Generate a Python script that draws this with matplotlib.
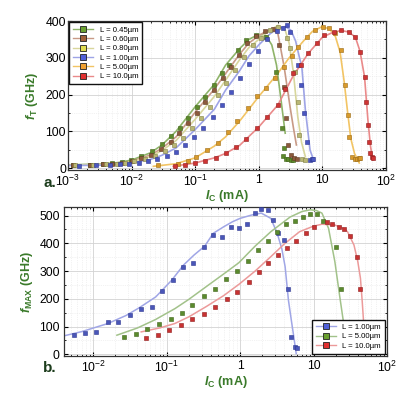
import matplotlib
matplotlib.use("Agg")
import matplotlib.pyplot as plt
from matplotlib.lines import Line2D
from matplotlib.ticker import FixedLocator, FixedFormatter, LogLocator, NullFormatter, MultipleLocator

plt.rcParams['font.family'] = ['Liberation Sans', 'DejaVu Sans']
plt.rcParams['mathtext.fontset'] = 'custom'
plt.rcParams['mathtext.rm'] = 'Liberation Sans'
plt.rcParams['mathtext.it'] = 'Liberation Sans:italic'
plt.rcParams['mathtext.bf'] = 'Liberation Sans:bold'
plt.rcParams['mathtext.bfit'] = 'Liberation Sans:bold:italic'

# ---------------- panel a: fT vs Ic ----------------
labels_a = ['L = 0.45µm', 'L = 0.60µm', 'L = 0.80µm', 'L = 1.00µm', 'L = 5.00µm', 'L = 10.0µm']

# measured points
ic_045 = [0.0012, 0.0022, 0.0035, 0.005, 0.007, 0.0097, 0.014, 0.021, 0.03, 0.042, 0.057, 0.078, 0.107, 0.145, 0.197, 0.26, 0.34, 0.47, 0.64, 0.9, 1.3, 1.84, 2.3, 2.5, 2.4, 2.65, 2.9, 3.2, 3.5]
ft_045 = [9, 9, 11, 13, 16, 22, 33, 46, 65, 88, 109, 136, 166, 193, 226, 258, 280, 321, 348, 362, 356, 261, 110, 55, 32, 26, 24, 22, 21]
ic_060 = [0.0012, 0.0022, 0.0035, 0.005, 0.007, 0.01, 0.014, 0.02, 0.029, 0.041, 0.056, 0.078, 0.107, 0.145, 0.2, 0.27, 0.36, 0.48, 0.66, 0.9, 1.25, 1.7, 2.08, 2.47, 2.65, 2.9, 3.2, 3.6, 4.0]
ft_060 = [9, 9, 10, 12, 15, 20, 27, 37, 52, 70, 95, 122, 150, 180, 212, 245, 275, 308, 340, 360, 372, 378, 335, 221, 135, 63, 35, 28, 25]
ic_080 = [0.0013, 0.0025, 0.004, 0.0058, 0.008, 0.011, 0.016, 0.023, 0.033, 0.046, 0.064, 0.09, 0.125, 0.17, 0.23, 0.31, 0.42, 0.58, 0.8, 1.1, 1.5, 2.0, 2.76, 3.1, 3.66, 4.1, 4.3, 4.85, 5.3]
ft_080 = [8, 9, 10, 12, 15, 19, 26, 34, 46, 62, 82, 108, 135, 165, 198, 232, 268, 303, 335, 355, 375, 385, 353, 326, 262, 180, 90, 24, 22]
ic_100 = [0.0015, 0.0028, 0.0045, 0.0065, 0.009, 0.013, 0.018, 0.025, 0.036, 0.05, 0.07, 0.097, 0.135, 0.19, 0.26, 0.36, 0.5, 0.7, 0.97, 1.35, 1.9, 2.4, 2.76, 3.1, 4.1, 4.6, 5.2, 5.8, 6.4, 6.8, 7.2]
ft_100 = [7, 8, 9, 10, 12, 15, 19, 25, 33, 45, 62, 85, 110, 140, 173, 208, 245, 282, 318, 350, 372, 382, 389, 371, 280, 226, 150, 70, 22, 24, 25]
ic_500 = [0.026, 0.053, 0.076, 0.104, 0.155, 0.226, 0.33, 0.46, 0.67, 0.93, 1.3, 1.8, 2.5, 3.3, 4.1, 5.76, 7.6, 10.1, 12.7, 16, 19.9, 22.3, 25, 26.4, 29.4, 33, 35, 37, 39]
ft_500 = [8, 11, 19, 30, 49, 68, 98, 128, 163, 195, 218, 245, 275, 305, 330, 357, 375, 384, 380, 368, 321, 226, 144, 85, 31, 26, 24, 27, 28]
ic_1000 = [0.048, 0.07, 0.1, 0.145, 0.21, 0.3, 0.44, 0.64, 0.93, 1.35, 1.97, 2.6, 3.46, 4.6, 6.0, 8.1, 10.7, 15, 19.9, 26.4, 33, 39, 46, 49, 52, 55, 57, 60, 62]
ft_1000 = [6, 9, 14, 20, 28, 40, 58, 80, 108, 140, 171, 215, 258, 280, 312, 339, 362, 371, 375, 371, 357, 316, 248, 180, 117, 72, 40, 30, 27]

# fitted curves
fit_ic_045 = [0.001, 0.003, 0.006, 0.01, 0.02, 0.03, 0.05, 0.1, 0.2, 0.3, 0.5, 0.7, 1.0, 1.3, 1.6, 1.9, 2.2, 2.6]
fit_ft_045 = [9, 11, 15, 22, 42, 63, 100, 167, 228, 280, 325, 350, 364, 360, 335, 280, 195, 95]
fit_ic_060 = [0.001, 0.003, 0.006, 0.01, 0.02, 0.03, 0.05, 0.1, 0.2, 0.3, 0.5, 0.7, 1.0, 1.3, 1.6, 2.0, 2.5, 3.1, 3.5, 3.9]
fit_ft_060 = [8, 10, 13, 19, 36, 54, 85, 152, 215, 257, 310, 340, 360, 372, 378, 365, 276, 167, 110, 63]
fit_ic_080 = [0.001, 0.003, 0.006, 0.01, 0.02, 0.03, 0.05, 0.1, 0.2, 0.3, 0.5, 0.7, 1.0, 1.4, 2.0, 2.6, 3.0, 3.5, 4.1, 4.7, 5.4]
fit_ft_080 = [8, 10, 12, 17, 32, 48, 75, 133, 195, 239, 295, 328, 350, 372, 388, 375, 340, 260, 140, 70, 31]
fit_ic_100 = [0.001, 0.003, 0.006, 0.01, 0.02, 0.03, 0.05, 0.1, 0.2, 0.3, 0.5, 0.7, 1.0, 1.5, 2.0, 2.6, 3.2, 3.8, 4.3, 4.75, 5.4, 6.4, 7.2]
fit_ft_100 = [7, 8, 10, 14, 24, 35, 55, 105, 160, 212, 265, 305, 335, 365, 380, 385, 375, 345, 305, 275, 158, 49, 24]
fit_ic_500 = [0.022, 0.05, 0.1, 0.2, 0.3, 0.5, 1.0, 2.0, 3.0, 5.0, 7.0, 10, 13, 16, 19, 22, 25, 28, 32, 38]
fit_ft_500 = [5, 12, 28, 60, 85, 128, 195, 258, 300, 345, 372, 385, 378, 358, 315, 235, 150, 80, 40, 14]
fit_ic_1000 = [0.045, 0.1, 0.2, 0.3, 0.5, 1.0, 2.0, 3.5, 6.0, 10, 15, 20, 26, 33, 39, 46, 52, 57, 62]
fit_ft_1000 = [5, 14, 28, 40, 62, 112, 172, 252, 312, 356, 370, 374, 370, 356, 318, 248, 130, 60, 22]

# ---------------- panel b: fMAX vs Ic ----------------
labels_b = ['L = 1.00µm', 'L = 5.00µm', 'L = 10.0µm']
icm_100 = [0.0055, 0.0078, 0.011, 0.0158, 0.022, 0.0316, 0.045, 0.063, 0.087, 0.123, 0.168, 0.23, 0.32, 0.43, 0.57, 0.75, 0.96, 1.23, 1.57, 1.94, 2.37, 2.84, 3.26, 4.0, 4.55, 5.0, 5.56, 5.9]
fm_100 = [69, 78, 80, 115, 115, 142, 164, 171, 230, 267, 313, 328, 388, 431, 422, 458, 454, 470, 510, 524, 521, 484, 436, 412, 235, 63, 27, 23]
icm_500 = [0.026, 0.038, 0.054, 0.078, 0.113, 0.16, 0.224, 0.325, 0.46, 0.64, 0.91, 1.27, 1.75, 2.37, 3.2, 4.24, 5.56, 7.1, 8.9, 11.0, 13.5, 20.4, 23.3]
fm_500 = [63, 75, 93, 108, 129, 149, 177, 210, 234, 272, 300, 337, 376, 408, 440, 469, 481, 496, 505, 505, 482, 386, 235]
icm_1000 = [0.052, 0.076, 0.109, 0.158, 0.224, 0.325, 0.46, 0.66, 0.91, 1.32, 1.79, 2.4, 3.3, 4.3, 5.8, 7.9, 10.1, 15.1, 17.9, 22, 26.3, 31, 39.3, 43.5]
fm_1000 = [60, 71, 87, 105, 127, 147, 169, 199, 225, 261, 296, 328, 358, 384, 410, 439, 458, 476, 469, 458, 452, 428, 350, 235]

fit_icm_100 = [0.0035, 0.007, 0.0158, 0.028, 0.043, 0.071, 0.117, 0.17, 0.236, 0.33, 0.43, 0.6, 0.79, 1.0, 1.43, 1.94, 2.62, 3.2, 3.7, 4.1, 4.55, 5.0, 5.3, 5.8]
fit_fm_100 = [63, 82, 111, 140, 169, 207, 267, 322, 358, 390, 436, 460, 478, 490, 502, 509, 490, 436, 380, 316, 195, 120, 75, 3]
fit_icm_500 = [0.021, 0.04, 0.07, 0.13, 0.2, 0.35, 0.6, 0.96, 1.6, 2.62, 4.8, 7.0, 9.1, 11, 13, 16, 19.5, 22.6, 26.3, 27.7]
fit_fm_500 = [69, 95, 125, 165, 198, 245, 290, 330, 390, 442, 495, 515, 521, 518, 509, 454, 334, 213, 93, 8]
fit_icm_1000 = [0.045, 0.08, 0.129, 0.2, 0.35, 0.6, 0.96, 1.6, 2.62, 4.0, 6.45, 10, 13, 19.5, 25, 29, 35.5, 40, 43.5, 46, 48, 49.6]
fit_fm_1000 = [81, 95, 111, 135, 173, 212, 252, 300, 352, 398, 442, 462, 469, 466, 455, 442, 394, 335, 274, 190, 117, 8]

# styles
mk_a = ['#5d8a2c', '#8c5a3c', '#b9b774', '#4a56c0', '#d89a2c', '#cf3434']
edge_a = ['#3f6318', '#5e3822', '#7f7d40', '#2c3690', '#9a6a14', '#8f1a1a']
leg_a = ['#6aa030', '#a0603a', '#e0dc50', '#5060d8', '#f0a030', '#e03030']
ln_a = ['#8fb46a', '#c89a86', '#d8d69c', '#9ea4e6', '#f2c464', '#ea8a8a']
mk_b = ['#4a56b8', '#5a8a2e', '#c83232']
edge_b = ['#2c3690', '#3f6318', '#8f1a1a']
leg_b = ['#5060d8', '#6aa030', '#e03030']
ln_b = ['#a0a6e6', '#a2c28a', '#ec9a9a']

lab_col = '#3a7a2a'
W, H = 414, 393
fig = plt.figure(figsize=(W / 100, H / 100), dpi=100)

def style_axes(ax, yminor, ypad):
    ax.set_xscale('log')
    ax.tick_params(which='both', direction='in', top=True, right=True, labelsize=8.8, colors='black')
    ax.tick_params(axis='x', pad=3)
    ax.tick_params(axis='y', pad=ypad)
    ax.tick_params(which='major', length=3, width=0.8)
    ax.tick_params(which='minor', length=1.6, width=0.6)
    ax.xaxis.set_minor_locator(LogLocator(base=10, subs=range(2, 10), numticks=20))
    ax.xaxis.set_minor_formatter(NullFormatter())
    ax.yaxis.set_minor_locator(MultipleLocator(yminor))
    ax.grid(which='major', color='#d2d2d2', lw=0.6)
    ax.grid(which='minor', color='#e6e6e6', lw=0.5, ls=':')
    ax.set_axisbelow(True)
    for s in ax.spines.values():
        s.set_color('#333333')
        s.set_linewidth(0.9)

# ---- panel a
ax1 = fig.add_axes([68 / W, 1 - 170 / H, 318 / W, 149 / H])
style_axes(ax1, 50, 1.5)
fits_a = [(fit_ic_045, fit_ft_045), (fit_ic_060, fit_ft_060), (fit_ic_080, fit_ft_080),
          (fit_ic_100, fit_ft_100), (fit_ic_500, fit_ft_500), (fit_ic_1000, fit_ft_1000)]
pts_a = [(ic_045, ft_045), (ic_060, ft_060), (ic_080, ft_080),
         (ic_100, ft_100), (ic_500, ft_500), (ic_1000, ft_1000)]
for i in range(6):
    ax1.plot(fits_a[i][0], fits_a[i][1], color=ln_a[i], lw=1.2, zorder=2)
for i in range(6):
    ax1.plot(pts_a[i][0], pts_a[i][1], ls='none', marker='s', ms=3.3, mfc=mk_a[i],
             mec=edge_a[i], mew=0.4, zorder=3)
ax1.set_xlim(1e-3, 1e2)
ax1.set_ylim(-5, 400)
ax1.set_yticks([0, 100, 200, 300, 400])
ax1.xaxis.set_major_locator(FixedLocator([1e-3, 1e-2, 1e-1, 1, 10, 100]))
ax1.xaxis.set_major_formatter(FixedFormatter(['10$^{-3}$', '10$^{-2}$', '10$^{-1}$', '1', '10', '10$^{2}$']))
ax1.set_ylabel(r'$\mathbfit{f}_{\mathbf{T}}$ $\mathbf{(GHz)}$', fontsize=9, color=lab_col, labelpad=4)
ax1.set_xlabel(r'$\mathbfit{I}_{\mathbf{C}}$ $\mathbf{(mA)}$', fontsize=9, color=lab_col, labelpad=-1)
h_a = [Line2D([], [], color=ln_a[i], lw=1.0, marker='s', ms=4.5, mfc=leg_a[i], mec='#222222', mew=0.6)
       for i in range(6)]
lg1 = ax1.legend(h_a, labels_a, loc='upper left', fontsize=5.6, handlelength=2.6, handletextpad=0.8,
                 labelspacing=0.25, borderaxespad=0.15, borderpad=0.5, fancybox=False, framealpha=1,
                 edgecolor='#111111')
lg1.get_frame().set_linewidth(1.0)

# ---- panel b
ax2 = fig.add_axes([64 / W, 1 - 356 / H, 323 / W, 149 / H])
style_axes(ax2, 50, 3)
fits_b = [(fit_icm_100, fit_fm_100), (fit_icm_500, fit_fm_500), (fit_icm_1000, fit_fm_1000)]
pts_b = [(icm_100, fm_100), (icm_500, fm_500), (icm_1000, fm_1000)]
for i in range(3):
    ax2.plot(fits_b[i][0], fits_b[i][1], color=ln_b[i], lw=1.1, zorder=2)
for i in range(3):
    ax2.plot(pts_b[i][0], pts_b[i][1], ls='none', marker='s', ms=3.3, mfc=mk_b[i],
             mec=edge_b[i], mew=0.4, zorder=3)
ax2.set_xlim(4e-3, 1e2)
ax2.set_ylim(-6, 531)
ax2.set_yticks([0, 100, 200, 300, 400, 500])
ax2.xaxis.set_major_locator(FixedLocator([1e-2, 1e-1, 1, 10, 100]))
ax2.xaxis.set_major_formatter(FixedFormatter(['10$^{-2}$', '10$^{-1}$', '1', '10', '10$^{2}$']))
ax2.set_ylabel(r'$\mathbfit{f}_{\mathbf{MAX}}$ $\mathbf{(GHz)}$', fontsize=9, color=lab_col, labelpad=3)
ax2.set_xlabel(r'$\mathbfit{I}_{\mathbf{C}}$ $\mathbf{(mA)}$', fontsize=9, color=lab_col, labelpad=-1)
h_b = [Line2D([], [], color=ln_b[i], lw=1.0, marker='s', ms=4.5, mfc=leg_b[i], mec='#222222', mew=0.6)
       for i in range(3)]
lg2 = ax2.legend(h_b, labels_b, loc='lower right', fontsize=5.6, handlelength=2.6, handletextpad=0.8,
                 labelspacing=0.25, borderaxespad=0.3, borderpad=0.5, fancybox=False, framealpha=1,
                 edgecolor='#111111')
lg2.get_frame().set_linewidth(1.0)

fig.text(50 / W, 1 - 183 / H, 'a.', fontsize=11, fontweight='bold', color='#1d3d1d', ha='center', va='center')
fig.text(50 / W, 1 - 368 / H, 'b.', fontsize=11, fontweight='bold', color='#1d3d1d', ha='center', va='center')

fig.savefig('out.png', dpi=100, facecolor='white')
